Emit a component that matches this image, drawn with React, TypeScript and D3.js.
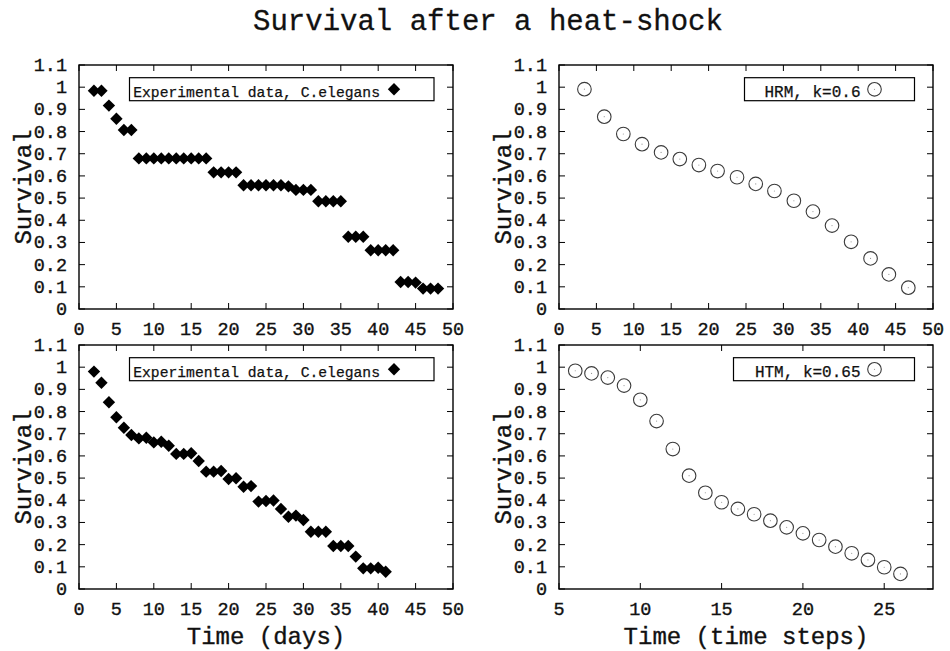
import React from "react";
import * as d3 from "d3";

// ---------- DATA ----------
const chartTitle = "Survival after a heat-shock";
const yTicks = [0, 0.1, 0.2, 0.3, 0.4, 0.5, 0.6, 0.7, 0.8, 0.9, 1, 1.1];
const xTicksDays = [0, 5, 10, 15, 20, 25, 30, 35, 40, 45, 50];
const xTicksSteps = [5, 10, 15, 20, 25];

// Top-left: experimental data (days)
const expAX = [2, 3, 4, 5, 6, 7, 8, 9, 10, 11, 12, 13, 14, 15, 16, 17, 18, 19, 20, 21, 22, 23, 24, 25, 26, 27, 28, 29, 30, 31, 32, 33, 34, 35, 36, 37, 38, 39, 40, 41, 42, 43, 44, 45, 46, 47, 48];
const expAY = [0.984, 0.984, 0.917, 0.858, 0.807, 0.807,
  0.679, 0.679, 0.679, 0.679, 0.679, 0.679, 0.679, 0.679, 0.679, 0.679,
  0.616, 0.616, 0.616, 0.616,
  0.558, 0.558, 0.558, 0.558, 0.558, 0.558, 0.553,
  0.537, 0.537, 0.537,
  0.486, 0.486, 0.486, 0.486,
  0.326, 0.326, 0.326,
  0.265, 0.265, 0.265, 0.265,
  0.122, 0.122, 0.119,
  0.092, 0.092, 0.092];

// Bottom-left: experimental data (days)
const expBX = [2, 3, 4, 5, 6, 7, 8, 9, 10, 11, 12, 13, 14, 15, 16, 17, 18, 19, 20, 21, 22, 23, 24, 25, 26, 27, 28, 29, 30, 31, 32, 33, 34, 35, 36, 37, 38, 39, 40, 41];
const expBY = [0.980, 0.930, 0.842, 0.774, 0.727, 0.694, 0.679, 0.682, 0.661, 0.664,
  0.646, 0.609, 0.609, 0.612, 0.577, 0.529, 0.529, 0.532, 0.496, 0.499,
  0.461, 0.464, 0.394, 0.397, 0.399, 0.361, 0.326, 0.331, 0.311, 0.258,
  0.258, 0.258, 0.194, 0.194, 0.194, 0.146, 0.093, 0.093, 0.096, 0.078];

// Top-right: HRM, k=0.6
const hrmX = [3.4, 6.05, 8.6, 11.1, 13.65, 16.15, 18.7, 21.2, 23.8, 26.3, 28.8, 31.4, 33.95, 36.5, 39.05, 41.65, 44.1, 46.7];
const hrmY = [0.991, 0.867, 0.789, 0.743, 0.706, 0.676, 0.649, 0.622, 0.594, 0.564, 0.532, 0.488, 0.439, 0.376, 0.303, 0.228, 0.156, 0.096];

// Bottom-right: HTM, k=0.65
const htmX = [6, 7, 8, 9, 10, 11, 12, 13, 14, 15, 16, 17, 18, 19, 20, 21, 22, 23, 24, 25, 26];
const htmY = [0.984, 0.972, 0.953, 0.917, 0.853, 0.757, 0.631, 0.511, 0.434, 0.391, 0.361, 0.337, 0.308, 0.278, 0.251, 0.221, 0.191, 0.161, 0.131, 0.098, 0.068];

const legendExp = "Experimental data, C.elegans";
const legendHRM = "HRM, k=0.6";
const legendHTM = "HTM, k=0.65";
const yLabel = "Survival";
const xLabelDays = "Time (days)";
const xLabelSteps = "Time (time steps)";

// ---------- LAYOUT ----------
const W = 950;
const H = 651;
const FONT = "'Liberation Mono', 'DejaVu Sans Mono', monospace";

type Panel = {
  xs: number[]; ys: number[]; marker: "diamond" | "circle";
  x0: number; x1: number; y0: number; y1: number;
  xDomain: [number, number]; xTicks: number[];
  legend: string; legendBox: [number, number]; legendFont: number;
  xLabel?: string;
};

const panels: Panel[] = [
  { xs: expAX, ys: expAY, marker: "diamond", x0: 79, x1: 453, y0: 65, y1: 309,
    xDomain: [0, 50], xTicks: xTicksDays, legend: legendExp, legendBox: [129.5, 434], legendFont: 14.7 },
  { xs: hrmX, ys: hrmY, marker: "circle", x0: 559, x1: 933, y0: 65, y1: 309,
    xDomain: [0, 50], xTicks: xTicksDays, legend: legendHRM, legendBox: [744.5, 914.5], legendFont: 16 },
  { xs: expBX, ys: expBY, marker: "diamond", x0: 79, x1: 453, y0: 345, y1: 589,
    xDomain: [0, 50], xTicks: xTicksDays, legend: legendExp, legendBox: [129.5, 434], legendFont: 14.7, xLabel: xLabelDays },
  { xs: htmX, ys: htmY, marker: "circle", x0: 559, x1: 933, y0: 345, y1: 589,
    xDomain: [5, 28], xTicks: xTicksSteps, legend: legendHTM, legendBox: [733.5, 914.5], legendFont: 16, xLabel: xLabelSteps },
];

const DS = 6.2; // diamond half size
const CR = 6.8; // circle radius

function Marker({ kind, x, y }: { kind: "diamond" | "circle"; x: number; y: number }) {
  if (kind === "diamond") {
    const p = d3.path();
    p.moveTo(x, y - DS);
    p.lineTo(x + DS, y);
    p.lineTo(x, y + DS);
    p.lineTo(x - DS, y);
    p.closePath();
    return <path d={p.toString()} fill="#000" />;
  }
  return (
    <g>
      <circle cx={x} cy={y} r={CR} fill="none" stroke="#3a3a3a" strokeWidth={1.1} />
      <circle cx={x} cy={y} r={0.6} fill="#999" />
    </g>
  );
}

function PanelView({ p }: { p: Panel }) {
  const xs = d3.scaleLinear().domain(p.xDomain).range([p.x0, p.x1]);
  const ys = d3.scaleLinear().domain([0, 1.1]).range([p.y1, p.y0]);
  const tl = 6;
  const legY = 89.3 + (p.y0 - 65);
  const markerX = p.legendBox[1] - 40;
  return (
    <g>
      {p.xTicks.map((t) => (
        <g key={"xt" + t}>
          <line x1={xs(t)} x2={xs(t)} y1={p.y1} y2={p.y1 - tl} stroke="#000" strokeWidth={1} />
          <line x1={xs(t)} x2={xs(t)} y1={p.y0} y2={p.y0 + tl} stroke="#000" strokeWidth={1} />
          <text x={xs(t)} y={p.y1 + 25.5} textAnchor="middle" fontFamily={FONT} fontSize={18.5}
            fill="#111" stroke="#111" strokeWidth={0.35}>{t}</text>
        </g>
      ))}
      {yTicks.map((t) => (
        <g key={"yt" + t}>
          <line x1={p.x0} x2={p.x0 + tl} y1={ys(t)} y2={ys(t)} stroke="#000" strokeWidth={1} />
          <line x1={p.x1} x2={p.x1 - tl} y1={ys(t)} y2={ys(t)} stroke="#000" strokeWidth={1} />
          <text x={p.x0 - 12} y={ys(t) + 6} textAnchor="end" fontFamily={FONT} fontSize={18.5}
            fill="#111" stroke="#111" strokeWidth={0.35}>{d3.format("~g")(t)}</text>
        </g>
      ))}
      <rect x={p.x0} y={p.y0} width={p.x1 - p.x0} height={p.y1 - p.y0} fill="none" stroke="#000" strokeWidth={1.4} />
      <rect x={p.legendBox[0]} y={legY - 11.6} width={p.legendBox[1] - p.legendBox[0]} height={23}
        fill="#fff" stroke="#000" strokeWidth={1.2} />
      <text x={markerX - 14} y={legY + 7.4} textAnchor="end" fontFamily={FONT} fontSize={p.legendFont}
        fill="#111" stroke="#111" strokeWidth={0.25}>{p.legend}</text>
      <Marker kind={p.marker} x={markerX} y={legY} />
      {p.xs.map((x, i) => (
        <Marker key={i} kind={p.marker} x={xs(x)} y={ys(p.ys[i])} />
      ))}
      <text transform={`translate(${p.x0 - 48},${(p.y0 + p.y1) / 2}) rotate(-90)`} textAnchor="middle"
        fontFamily={FONT} fontSize={24} fill="#111" stroke="#111" strokeWidth={0.35}>{yLabel}</text>
      {p.xLabel && (
        <text x={(p.x0 + p.x1) / 2} y={p.y1 + 55} textAnchor="middle" fontFamily={FONT} fontSize={24}
          fill="#111" stroke="#111" strokeWidth={0.35}>{p.xLabel}</text>
      )}
    </g>
  );
}

export default function App() {
  return (
    <svg width={W} height={H} style={{ position: "absolute", left: 0, top: 0, background: "#fff" }}>
      <rect x={0} y={0} width={W} height={H} fill="#fff" />
      <text x={488} y={30} textAnchor="middle" fontFamily={FONT} fontSize={29} fill="#111"
        stroke="#111" strokeWidth={0.3}>{chartTitle}</text>
      {panels.map((p, i) => <PanelView key={i} p={p} />)}
    </svg>
  );
}
